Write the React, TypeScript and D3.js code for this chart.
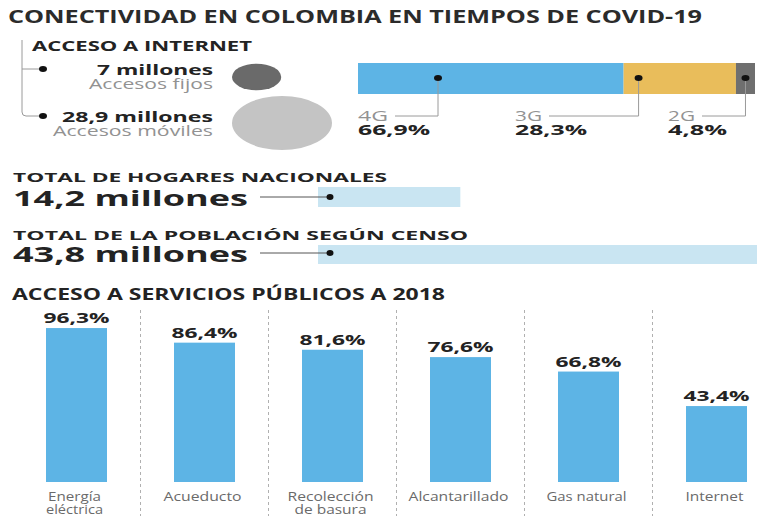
import * as d3 from 'd3';

// Acceso a internet
const accesoTipos = ['Accesos fijos', 'Accesos móviles'];
const accesoMillones = [7, 28.9];
const accesoTextos = ['7 millones', '28,9 millones'];

// Tecnologías móviles
const redes = ['4G', '3G', '2G'];
const redesPct = [66.9, 28.3, 4.8];
const redesTextos = ['66,9%', '28,3%', '4,8%'];

// Totales nacionales
const totalesTitulos = ['TOTAL DE HOGARES NACIONALES', 'TOTAL DE LA POBLACIÓN SEGÚN CENSO'];
const totalesMillones = [14.2, 43.8];
const totalesTextos = ['14,2 millones', '43,8 millones'];

// Servicios públicos 2018
const servicios = ['Energía eléctrica', 'Acueducto', 'Recolección de basura', 'Alcantarillado', 'Gas natural', 'Internet'];
const serviciosLineas = [['Energía', 'eléctrica'], ['Acueducto'], ['Recolección', 'de basura'], ['Alcantarillado'], ['Gas natural'], ['Internet']];
const serviciosPct = [96.3, 86.4, 81.6, 76.6, 66.8, 43.4];
const serviciosTextos = ['96,3%', '86,4%', '81,6%', '76,6%', '66,8%', '43,4%'];

const W = 757, H = 516;
const FONT = '"Open Sans", "DejaVu Sans", sans-serif';
const INK = '#232323';
const MUTED = '#929292';
const LINE = '#9a9a9a';
const BLUE = '#5db4e5';
const redColors = ['#5db4e5', '#e9bd5b', '#6f6f6f'];
const circleColors = ['#6a6a6a', '#c4c4c4'];

function T({ x, y, w, size, weight = 400, fill = INK, anchor = 'start', children }: any) {
  return (
    <text x={x} y={y} textLength={w} lengthAdjust="spacingAndGlyphs" textAnchor={anchor}
      fontSize={size} fontWeight={weight} fill={fill} fontFamily={FONT}>{children}</text>
  );
}

export default function App() {
  // bubbles
  const r = d3.scaleSqrt().domain([0, d3.max(accesoMillones)!]).range([0, 50]);
  const bubbleY = [77, 123];
  const accesoY = [75, 122];
  const accesoW = [116, 151];
  const accesoSubW = [124, 160];
  const bracketDotX = 43;

  // stacked bar
  const xNet = d3.scaleLinear().domain([0, d3.sum(redesPct)]).range([358, 755]);
  const starts = redesPct.map((_, i) => d3.sum(redesPct.slice(0, i)));
  const dotOffset = [80, 15, (xNet(redesPct[2]) - xNet(0)) / 2];
  const netLabelX = [358, 515, 668];
  const netLabelW = [30, 27, 27];
  const netPctW = [72, 72, 59];

  // totals
  const xTot = d3.scaleLinear().domain([0, d3.max(totalesMillones)!]).range([318, 757]);
  const totTitleY = [182, 240];
  const totTitleW = [374, 455];
  const totValY = [206, 262];
  const totBarY = [187, 245];
  const totBarH = [20, 19];

  // services
  const xs = d3.scalePoint<string>().domain(servicios).range([76.5, 716.5]);
  const ys = d3.scaleLinear().domain([-8.1, 100]).range([482, 322.6]);
  const barW = 61;
  const catW = [[53, 57], [78], [86, 72], [100], [80], [58]];
  const seps = servicios.slice(1).map((s, i) => (xs(s)! + xs(servicios[i])!) / 2);

  return (
    <svg width={W} height={H} style={{ position: 'absolute', left: 0, top: 0, background: '#fff' }}>
      <T x={8} y={23} w={694} size={17} weight={700} fill="#2b2b2b">CONECTIVIDAD EN COLOMBIA EN TIEMPOS DE COVID-19</T>

      {/* Acceso a internet */}
      <T x={32} y={51} w={220} size={15} weight={700}>ACCESO A INTERNET</T>
      <path d={`M22,40 V112 Q22,116 26,116 H${bracketDotX} M22,69 H${bracketDotX}`} fill="none" stroke={LINE} strokeWidth={1} />
      {accesoTipos.map((t, i) => (
        <g key={t}>
          <ellipse cx={bracketDotX} cy={i ? 116 : 69} rx={4} ry={3} fill="#111" />
          <T x={213} y={accesoY[i]} w={accesoW[i]} size={14} weight={700} anchor="end">{accesoTextos[i]}</T>
          <T x={213} y={accesoY[i] + 13.5} w={accesoSubW[i]} size={14} fill={MUTED} anchor="end">{t}</T>
          <ellipse cx={232 + r(accesoMillones[i])} cy={bubbleY[i]} rx={r(accesoMillones[i])} ry={r(accesoMillones[i]) * 0.54} fill={circleColors[i]} />
        </g>
      ))}

      {/* Tecnologías */}
      {redes.map((n, i) => {
        const x0 = xNet(starts[i]);
        const dx = x0 + dotOffset[i];
        return (
          <g key={n}>
            <rect x={x0} y={63} width={xNet(starts[i] + redesPct[i]) - x0} height={31} fill={redColors[i]} />
            <path d={`M${dx},78 V116 H${netLabelX[i] + netLabelW[i] + 7}`} fill="none" stroke={LINE} strokeWidth={1} />
            <ellipse cx={dx} cy={78} rx={4} ry={3} fill="#111" />
            <T x={netLabelX[i]} y={121} w={netLabelW[i]} size={14} fill={MUTED}>{n}</T>
            <T x={netLabelX[i]} y={135} w={netPctW[i]} size={14} weight={700}>{redesTextos[i]}</T>
          </g>
        );
      })}

      {/* Totales */}
      {totalesTitulos.map((t, i) => (
        <g key={t}>
          <T x={13} y={totTitleY[i]} w={totTitleW[i]} size={13} weight={700}>{t}</T>
          <rect x={xTot(0)} y={totBarY[i]} width={xTot(totalesMillones[i]) - xTot(0)} height={totBarH[i]} fill="#c9e5f2" />
          <line x1={260} x2={xTot(0) + 12} y1={totValY[i] - 9} y2={totValY[i] - 9} stroke="#555" strokeWidth={1} />
          <ellipse cx={xTot(0) + 12} cy={totValY[i] - 9} rx={3.5} ry={3} fill="#111" />
          <T x={13} y={totValY[i]} w={235} size={22} weight={700}>{totalesTextos[i]}</T>
        </g>
      ))}

      {/* Servicios públicos */}
      <T x={12} y={300} w={433} size={16} weight={700}>ACCESO A SERVICIOS PÚBLICOS A 2018</T>
      {seps.map((x, i) => (
        <line key={i} x1={x} x2={x} y1={310} y2={H} stroke="#b0b0b0" strokeWidth={1} strokeDasharray="3,3" />
      ))}
      {servicios.map((s, i) => {
        const cx = xs(s)!;
        return (
          <g key={s}>
            <rect x={cx - barW / 2} y={ys(serviciosPct[i])} width={barW} height={ys(ys.domain()[0]) - ys(serviciosPct[i])} fill={BLUE} />
            <T x={cx} y={ys(serviciosPct[i]) - 5} w={66} size={15} weight={700} anchor="middle">{serviciosTextos[i]}</T>
            {serviciosLineas[i].map((l, j) => (
              <T key={l} x={cx - 2} y={501 + j * 13} w={catW[i][j]} size={12} fill="#6a6a6a" anchor="middle">{l}</T>
            ))}
          </g>
        );
      })}
    </svg>
  );
}
